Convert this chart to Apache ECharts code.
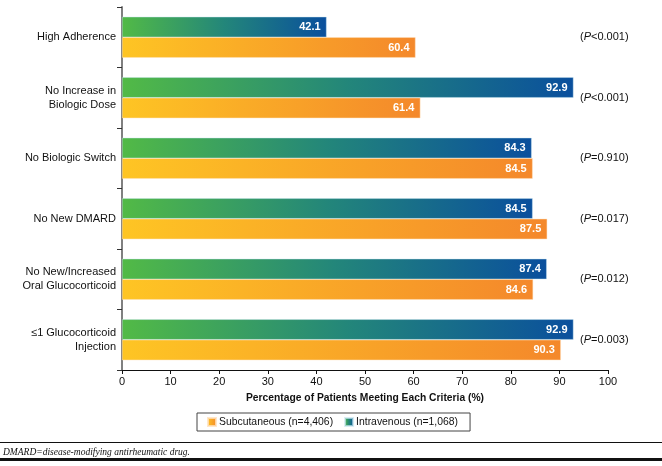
<!DOCTYPE html>
<html>
<head>
<meta charset="utf-8">
<script src="https://cdn.jsdelivr.net/npm/echarts@6/dist/echarts.min.js"></script>
<style>
html,body{margin:0;padding:0;background:#fff;}
#chart{width:662px;height:466px;}
</style>
</head>
<body>
<div id="chart"></div>
<script>
var categories = ['High Adherence', 'No Increase in\nBiologic Dose', 'No Biologic Switch', 'No New DMARD', 'No New/Increased\nOral Glucocorticoid', '\u22641 Glucocorticoid\nInjection'];
var intravenous = [42.1, 92.9, 84.3, 84.5, 87.4, 92.9];
var subcutaneous = [60.4, 61.4, 84.5, 87.5, 84.6, 90.3];
var pValues = ['<0.001', '<0.001', '=0.910', '=0.017', '=0.012', '=0.003'];
var xTicks = [0, 10, 20, 30, 40, 50, 60, 70, 80, 90, 100];

var font = 'Liberation Sans, Arial, Helvetica, sans-serif';
var ivGrad = new echarts.graphic.LinearGradient(0, 0, 1, 0, [
  {offset: 0, color: '#52ba46'},
  {offset: 0.5, color: '#23867a'},
  {offset: 1, color: '#0a4f9d'}
]);
var scGrad = new echarts.graphic.LinearGradient(0, 0, 1, 0, [
  {offset: 0, color: '#fec524'},
  {offset: 1, color: '#f4882b'}
]);

var chart = echarts.init(document.getElementById('chart'), null, {renderer: 'canvas'});
chart.setOption({
  animation: false,
  textStyle: {fontFamily: font},
  grid: {left: 122, right: 54, top: 7, bottom: 96, containLabel: false},
  legend: {
    data: ['Subcutaneous (n=4,406)', 'Intravenous (n=1,068)'],
    left: 197, top: 413,
    itemWidth: 8, itemHeight: 8, itemGap: 11,
    borderColor: '#444', borderWidth: 1, borderRadius: 0,
    padding: [4, 12, 4, 10],
    textStyle: {fontFamily: font, fontSize: 10.4, color: '#111', padding: [0, 0, 0, -2]},
    icon: 'rect'
  },
  xAxis: {
    type: 'value', min: 0, max: 100, interval: 10,
    name: 'Percentage of Patients Meeting Each Criteria (%)',
    nameLocation: 'middle', nameGap: 23,
    nameTextStyle: {fontFamily: font, fontSize: 10.3, fontWeight: 'bold', color: '#111'},
    axisLine: {show: true, lineStyle: {color: '#111', width: 1}},
    axisTick: {show: true, length: 4, lineStyle: {color: '#111'}},
    axisLabel: {fontFamily: font, fontSize: 11, color: '#111', margin: 6,
      formatter: function (v) { return xTicks.indexOf(v) >= 0 ? String(v) : ''; }},
    splitLine: {show: false}
  },
  yAxis: [{
    type: 'category', data: categories, inverse: true,
    axisLine: {show: true, lineStyle: {color: '#808080', width: 2}},
    axisTick: {show: true, length: 5, lineStyle: {color: '#333', width: 1}},
    axisLabel: {fontFamily: font, fontSize: 11, color: '#111', margin: 6, lineHeight: 14}
  }, {
    type: 'category', data: pValues, inverse: true, position: 'right',
    axisLine: {show: false}, axisTick: {show: false},
    axisLabel: {
      margin: -28, align: 'left',
      formatter: function (v) { return '{a|(}{i|P}{a|' + v + ')}'; },
      rich: {
        a: {fontFamily: font, fontSize: 11, color: '#111'},
        i: {fontFamily: font, fontSize: 11, color: '#111', fontStyle: 'italic'}
      }
    }
  }],
  series: [{
    name: 'Intravenous (n=1,068)', type: 'bar', data: intravenous,
    barWidth: 20.5, barGap: '0%',
    itemStyle: {color: ivGrad, borderColor: 'rgba(200,230,240,0.7)', borderWidth: 0.6},
    label: {show: true, position: 'insideRight', distance: 6, color: '#fff', fontWeight: 'bold', fontSize: 11, fontFamily: font,
      formatter: function (p) { return p.value.toFixed(1); }}
  }, {
    name: 'Subcutaneous (n=4,406)', type: 'bar', data: subcutaneous,
    barWidth: 20.5, barGap: '0%',
    itemStyle: {color: scGrad, borderColor: 'rgba(255,225,190,0.8)', borderWidth: 0.6},
    label: {show: true, position: 'insideRight', distance: 6, color: '#fff', fontWeight: 'bold', fontSize: 11, fontFamily: font,
      formatter: function (p) { return p.value.toFixed(1); }}
  }],
  graphic: [
    {type: 'line', shape: {x1: 0, y1: 442.5, x2: 662, y2: 442.5}, style: {stroke: '#111', lineWidth: 1.2}},
    {type: 'text', left: 3, top: 447, style: {text: 'DMARD=disease-modifying antirheumatic drug.', fontFamily: 'Liberation Serif, DejaVu Serif, serif', fontStyle: 'italic', fontSize: 9.5, fill: '#111'}},
    {type: 'line', shape: {x1: 0, y1: 459.5, x2: 662, y2: 459.5}, style: {stroke: '#111', lineWidth: 3}}
  ]
});
</script>
</body>
</html>
